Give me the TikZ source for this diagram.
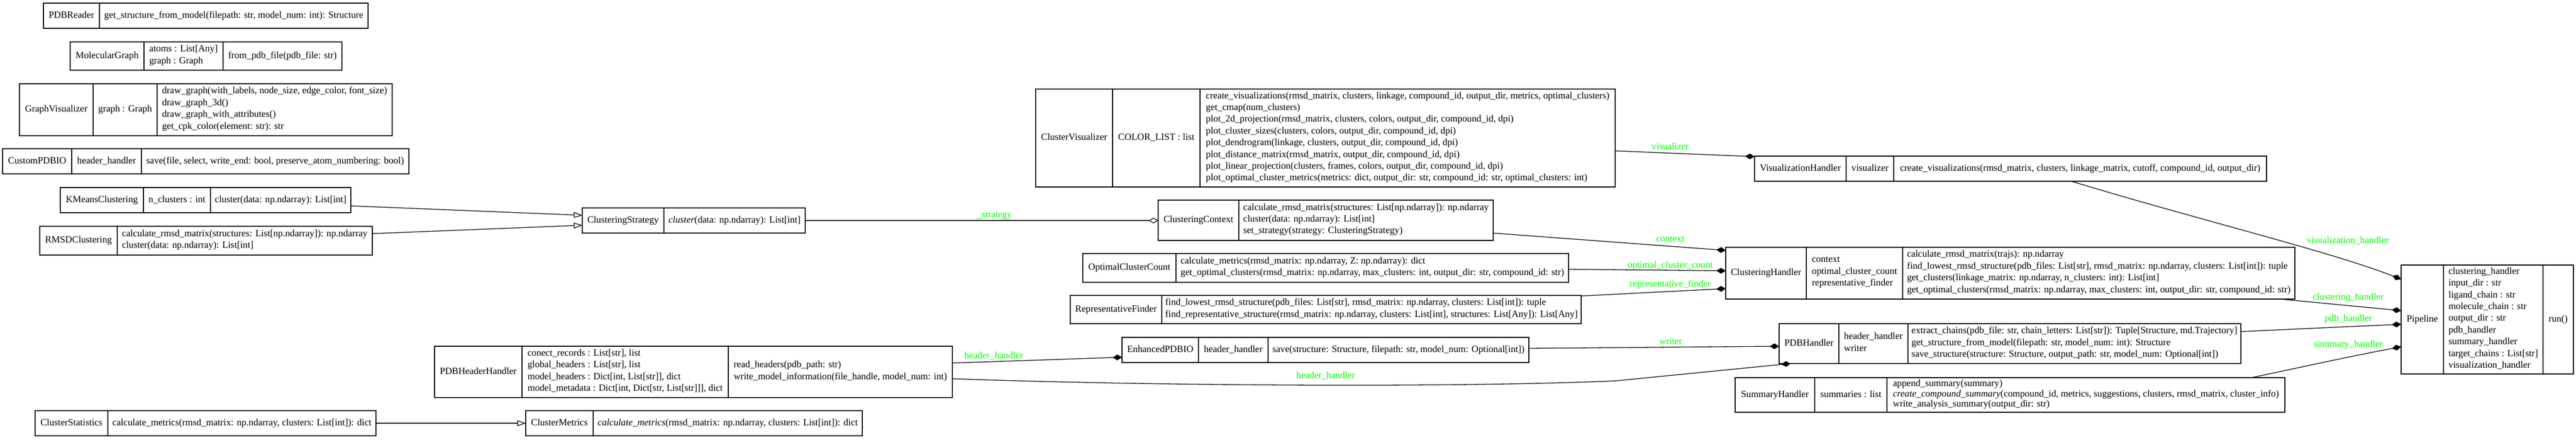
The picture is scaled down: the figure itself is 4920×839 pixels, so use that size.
\documentclass[tikz,border=0pt]{standalone}
\usepackage{fontspec}
\setmainfont{Liberation Serif}
\usetikzlibrary{arrows.meta}
\definecolor{lblgreen}{HTML}{00FF00}
\newcommand{\umlfont}{\fontsize{18.2}{22.4}\selectfont}
\newcommand{\clsbox}[5]{%
  \pgfmathsetmacro{\clsW}{#4-#2}\pgfmathsetmacro{\clsH}{#5-#3}%
  \pgfmathsetmacro{\clsX}{(#2+#4)/2}\pgfmathsetmacro{\clsY}{(#3+#5)/2}%
  \node[cls, minimum width=\clsW pt, minimum height=\clsH pt] (#1) at (\clsX,\clsY) {};}
\newcommand{\clsdiv}[3]{\draw[divline] (#1,#2) -- (#1,#3);}
\newcommand{\clscell}[6][]{\node[txt,#1] (#2) at ({(#3+#4)/2},#5) {#6};}
\tikzset{
  cls/.style={draw, line width=1.3pt, inner sep=0pt, outer sep=0pt, fill=white},
  divline/.style={line width=1.3pt},
  txt/.style={inner sep=0pt, align=left, font=\umlfont, execute at begin node=\strut, execute at end node=\strut},
  lbl/.style={inner sep=0pt, font=\umlfont, text=lblgreen},
  edge/.style={line width=1.3pt, draw=black},
  inh/.style={-{Triangle[open, length=16pt, width=11pt]}},
  agg/.style={-{Diamond[open, length=18pt, width=11pt]}},
  comp/.style={-{Diamond[length=18pt, width=11pt]}},
}
\begin{document}
\begin{tikzpicture}[x=1pt,y=-1pt]
\fill[white] (0,0) rectangle (4920,839);
\useasboundingbox (0,0) rectangle (4920,839);

% PDBReader
\clsbox{pdbreader}{83}{6}{703}{54}
\clsdiv{190}{6}{54}
\clscell{pdbreader-n}{83}{190}{30}{PDBReader}
\clscell{pdbreader-m}{190}{703}{30}{get\_structure\_from\_model(filepath: str, model\_num: int): Structure}

% MolecularGraph
\clsbox{molgraph}{134}{80}{653}{134}
\clsdiv{275}{80}{134}\clsdiv{426}{80}{134}
\clscell{molgraph-n}{134}{275}{107}{MolecularGraph}
\clscell{molgraph-a}{275}{426}{107}{atoms : List[Any]\\graph : Graph}
\clscell{molgraph-m}{426}{653}{107}{from\_pdb\_file(pdb\_file: str)}

% GraphVisualizer
\clsbox{graphvis}{37}{160}{749}{259}
\clsdiv{178}{160}{259}\clsdiv{300}{160}{259}
\clscell{graphvis-n}{37}{178}{209.5}{GraphVisualizer}
\clscell{graphvis-a}{178}{300}{209.5}{graph : Graph}
\clscell{graphvis-m}{300}{749}{209.5}{draw\_graph(with\_labels, node\_size, edge\_color, font\_size)\\draw\_graph\_3d()\\draw\_graph\_with\_attributes()\\get\_cpk\_color(element: str): str}

% CustomPDBIO
\clsbox{custompdbio}{5}{284}{781}{332}
\clsdiv{137}{284}{332}\clsdiv{270}{284}{332}
\clscell{custompdbio-n}{5}{137}{308}{CustomPDBIO}
\clscell{custompdbio-a}{137}{270}{308}{header\_handler}
\clscell{custompdbio-m}{270}{781}{308}{save(file, select, write\_end: bool, preserve\_atom\_numbering: bool)}

% KMeansClustering
\clsbox{kmeans}{115}{358}{670}{406}
\clsdiv{274}{358}{406}\clsdiv{402}{358}{406}
\clscell{kmeans-n}{115}{274}{382}{KMeansClustering}
\clscell{kmeans-a}{274}{402}{382}{n\_clusters : int}
\clscell{kmeans-m}{402}{670}{382}{cluster(data: np.ndarray): List[int]}

% RMSDClustering
\clsbox{rmsd}{76}{432}{711}{487}
\clsdiv{224}{432}{487}
\clscell{rmsd-n}{76}{224}{459.5}{RMSDClustering}
\clscell{rmsd-m}{224}{711}{459.5}{calculate\_rmsd\_matrix(structures: List[np.ndarray]): np.ndarray\\cluster(data: np.ndarray): List[int]}

% ClusterStatistics
\clsbox{cstats}{67}{784}{718}{832}
\clsdiv{206}{784}{832}
\clscell{cstats-n}{67}{206}{808}{ClusterStatistics}
\clscell{cstats-m}{206}{718}{808}{calculate\_metrics(rmsd\_matrix: np.ndarray, clusters: List[int]): dict}

% ClusteringStrategy
\clsbox{strategy}{1112}{397}{1538}{445}
\clsdiv{1268}{397}{445}
\clscell{strategy-n}{1112}{1268}{421}{ClusteringStrategy}
\clscell{strategy-m}{1268}{1538}{421}{\textit{cluster}(data: np.ndarray): List[int]}

% PDBHeaderHandler
\clsbox{phh}{830}{661}{1819}{759}
\clsdiv{997}{661}{759}\clsdiv{1391}{661}{759}
\clscell{phh-n}{830}{997}{710}{PDBHeaderHandler}
\clscell{phh-a}{997}{1391}{710}{conect\_records : List[str], list\\global\_headers : List[str], list\\model\_headers : Dict[int, List[str]], dict\\model\_metadata : Dict[int, Dict[str, List[str]]], dict}
\clscell{phh-m}{1391}{1819}{710}{read\_headers(pdb\_path: str)\\write\_model\_information(file\_handle, model\_num: int)}

% ClusterMetrics
\clsbox{cmetrics}{1004}{784}{1647}{832}
\clsdiv{1133}{784}{832}
\clscell{cmetrics-n}{1004}{1133}{808}{ClusterMetrics}
\clscell{cmetrics-m}{1133}{1647}{808}{\textit{calculate\_metrics}(rmsd\_matrix: np.ndarray, clusters: List[int]): dict}

% ClusterVisualizer
\clsbox{cvis}{1978}{170}{3085}{357}
\clsdiv{2125}{170}{357}\clsdiv{2292}{170}{357}
\clscell{cvis-n}{1978}{2125}{263.5}{ClusterVisualizer}
\clscell{cvis-a}{2125}{2292}{263.5}{COLOR\_LIST : list}
\clscell{cvis-m}{2292}{3085}{263.5}{create\_visualizations(rmsd\_matrix, clusters, linkage, compound\_id, output\_dir, metrics, optimal\_clusters)\\get\_cmap(num\_clusters)\\plot\_2d\_projection(rmsd\_matrix, clusters, colors, output\_dir, compound\_id, dpi)\\plot\_cluster\_sizes(clusters, colors, output\_dir, compound\_id, dpi)\\plot\_dendrogram(linkage, clusters, output\_dir, compound\_id, dpi)\\plot\_distance\_matrix(rmsd\_matrix, output\_dir, compound\_id, dpi)\\plot\_linear\_projection(clusters, frames, colors, output\_dir, compound\_id, dpi)\\plot\_optimal\_cluster\_metrics(metrics: dict, output\_dir: str, compound\_id: str, optimal\_clusters: int)}

% ClusteringContext
\clsbox{ctx}{2212}{382}{2852}{459}
\clsdiv{2366}{382}{459}
\clscell{ctx-n}{2212}{2366}{420.5}{ClusteringContext}
\clscell{ctx-m}{2366}{2852}{420.5}{calculate\_rmsd\_matrix(structures: List[np.ndarray]): np.ndarray\\cluster(data: np.ndarray): List[int]\\set\_strategy(strategy: ClusteringStrategy)}

% OptimalClusterCount
\clsbox{occ}{2068}{484}{2996}{539}
\clsdiv{2246}{484}{539}
\clscell{occ-n}{2068}{2246}{511.5}{OptimalClusterCount}
\clscell{occ-m}{2246}{2996}{511.5}{calculate\_metrics(rmsd\_matrix: np.ndarray, Z: np.ndarray): dict\\get\_optimal\_clusters(rmsd\_matrix: np.ndarray, max\_clusters: int, output\_dir: str, compound\_id: str)}

% RepresentativeFinder
\clsbox{rf}{2044}{564}{3020}{618}
\clsdiv{2219}{564}{618}
\clscell{rf-n}{2044}{2219}{591}{RepresentativeFinder}
\clscell{rf-m}{2219}{3020}{591}{find\_lowest\_rmsd\_structure(pdb\_files: List[str], rmsd\_matrix: np.ndarray, clusters: List[int]): tuple\\find\_representative\_structure(rmsd\_matrix: np.ndarray, clusters: List[int], structures: List[Any]): List[Any]}

% EnhancedPDBIO
\clsbox{epdbio}{2143}{644}{2920}{692}
\clsdiv{2289}{644}{692}\clsdiv{2422}{644}{692}
\clscell{epdbio-n}{2143}{2289}{668}{EnhancedPDBIO}
\clscell{epdbio-a}{2289}{2422}{668}{header\_handler}
\clscell{epdbio-m}{2422}{2920}{668}{save(structure: Structure, filepath: str, model\_num: Optional[int])}

% VisualizationHandler
\clsbox{vish}{3351}{298}{4329}{346}
\clsdiv{3526}{298}{346}\clsdiv{3617}{298}{346}
\clscell{vish-n}{3351}{3526}{322}{VisualizationHandler}
\clscell{vish-a}{3526}{3617}{322}{visualizer}
\clscell{vish-m}{3617}{4329}{322}{create\_visualizations(rmsd\_matrix, clusters, linkage\_matrix, cutoff, compound\_id, output\_dir)}

% ClusteringHandler
\clsbox{chand}{3296}{472}{4383}{571}
\clsdiv{3450}{472}{571}\clsdiv{3634}{472}{571}
\clscell{chand-n}{3296}{3450}{521.5}{ClusteringHandler}
\clscell{chand-a}{3450}{3634}{521.5}{context\\optimal\_cluster\_count\\representative\_finder}
\clscell{chand-m}{3634}{4383}{521.5}{calculate\_rmsd\_matrix(trajs): np.ndarray\\find\_lowest\_rmsd\_structure(pdb\_files: List[str], rmsd\_matrix: np.ndarray, clusters: List[int]): tuple\\get\_clusters(linkage\_matrix: np.ndarray, n\_clusters: int): List[int]\\get\_optimal\_clusters(rmsd\_matrix: np.ndarray, max\_clusters: int, output\_dir: str, compound\_id: str)}

% PDBHandler
\clsbox{pdbh}{3398}{618}{4280}{694}
\clsdiv{3512}{618}{694}\clsdiv{3644}{618}{694}
\clscell{pdbh-n}{3398}{3512}{656}{PDBHandler}
\clscell{pdbh-a}{3512}{3644}{656}{header\_handler\\writer}
\clscell{pdbh-m}{3644}{4280}{656}{extract\_chains(pdb\_file: str, chain\_letters: List[str]): Tuple[Structure, md.Trajectory]\\get\_structure\_from\_model(filepath: str, model\_num: int): Structure\\save\_structure(structure: Structure, output\_path: str, model\_num: Optional[int])}

% SummaryHandler
\clsbox{sumh}{3314}{721}{4364}{787}
\clsdiv{3466}{721}{787}\clsdiv{3604}{721}{787}
\clscell{sumh-n}{3314}{3466}{754}{SummaryHandler}
\clscell{sumh-a}{3466}{3604}{754}{summaries : list}
\clscell[font=\fontsize{18.2}{19.5}\selectfont]{sumh-m}{3604}{4364}{754}{append\_summary(summary)\\\textit{create\_compound\_summary}(compound\_id, metrics, suggestions, clusters, rmsd\_matrix, cluster\_info)\\write\_analysis\_summary(output\_dir: str)}

% Pipeline
\clsbox{pipe}{4586}{506}{4915}{714}
\clsdiv{4667}{506}{714}\clsdiv{4857}{506}{714}
\clscell{pipe-n}{4586}{4667}{610}{Pipeline}
\clscell{pipe-a}{4667}{4857}{610}{clustering\_handler\\input\_dir : str\\ligand\_chain : str\\molecule\_chain : str\\output\_dir : str\\pdb\_handler\\summary\_handler\\target\_chains : List[str]\\visualization\_handler}
\clscell{pipe-m}{4857}{4915}{610}{run()}

% ---- connectors ----
\draw[edge, inh] (kmeans.east |- 0,393) -- (strategy.west |- 0,411);
\draw[edge, inh] (rmsd.east |- 0,446) -- (strategy.west |- 0,430);
\draw[edge, inh] (cstats.east |- 0,808) -- (cmetrics.west |- 0,808);
\draw[edge, agg] (strategy.east |- 0,421) -- (ctx.west |- 0,421);
\draw[edge, comp] (cvis.east |- 0,288) -- (vish.west |- 0,299);
\draw[edge, comp] (ctx.east |- 0,445) -- (chand.west |- 0,478);
\draw[edge, comp] (occ.east |- 0,514) -- (chand.west |- 0,517);
\draw[edge, comp] (rf.east |- 0,565) -- (chand.west |- 0,551);
\draw[edge, comp] (phh.east |- 0,693) -- (epdbio.west |- 0,682);
\draw[edge, comp] (epdbio.east |- 0,665) -- (pdbh.west |- 0,661);
\draw[edge, comp] (phh.east |- 0,723) .. controls (2200,737) and (2800,740) .. (3087,727) -- (pdbh.south -| 3420,0);
\draw[edge, comp] (vish.south -| 3956,0) .. controls (4200,420) and (4450,480) .. (pipe.west |- 0,533);
\draw[edge, comp] (chand.south -| 4355,0) -- (pipe.west |- 0,593);
\draw[edge, comp] (pdbh.east |- 0,633) -- (pipe.west |- 0,619);
\draw[edge, comp] (sumh.north -| 4300,0) .. controls (4390,702) and (4490,680) .. (pipe.west |- 0,662);

% ---- labels ----
\node[lbl] (l-strategy) at (1899,412) {\_strategy};
\node[lbl] (l-visualizer) at (3190,279) {visualizer};
\node[lbl] (l-context) at (3190,456) {context};
\node[lbl] (l-occ) at (3190,507) {optimal\_cluster\_count};
\node[lbl] (l-rf) at (3190,543) {representative\_finder};
\node[lbl] (l-hh1) at (1898,679) {header\_handler};
\node[lbl] (l-writer) at (3191,652) {writer};
\node[lbl] (l-hh2) at (2532,717) {header\_handler};
\node[lbl] (l-vh) at (4484,459) {visualization\_handler};
\node[lbl] (l-ch) at (4485,568) {clustering\_handler};
\node[lbl] (l-ph) at (4485,609) {pdb\_handler};
\node[lbl] (l-sh) at (4485,658) {summary\_handler};
\end{tikzpicture}
\end{document}
